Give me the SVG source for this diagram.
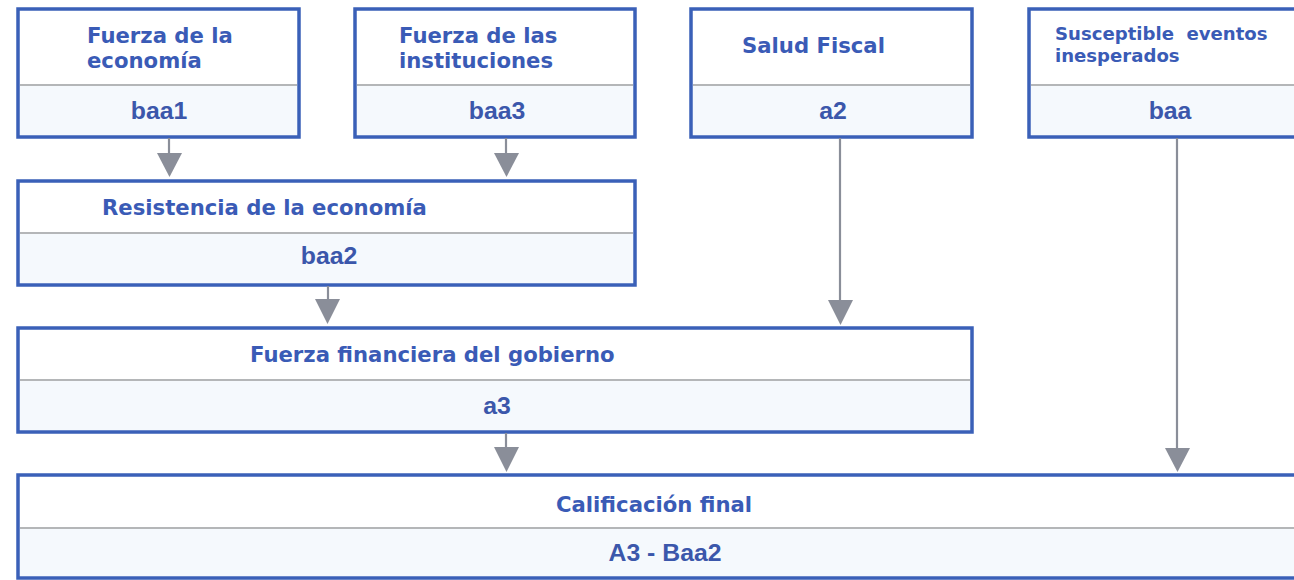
<svg xmlns="http://www.w3.org/2000/svg" width="1294" height="580" viewBox="0 0 1294 580">
<style>
.box{fill:#ffffff;stroke:#3a60b8;stroke-width:3.5}
.low{fill:#f5f9fd}
.div{stroke:#b4b6b8;stroke-width:1.8}
.t{font-family:"DejaVu Sans",Verdana,sans-serif;font-weight:bold;font-size:21.2px;fill:#3a5bb6}
.s{font-family:"DejaVu Sans",Verdana,sans-serif;font-weight:bold;font-size:18.1px;fill:#3a5bb6}
.v{font-family:"Liberation Sans",Arial,sans-serif;font-weight:bold;font-size:24.8px;fill:#3b57ab;text-anchor:middle}
.c{stroke:#8a8e99;stroke-width:2.2;fill:none}
.h{fill:#8a8e99}
</style>
<rect width="1294" height="580" fill="#ffffff"/>
<g id="n1">
<rect class="box" x="18" y="9" width="281" height="128"/>
<rect class="low" x="20" y="86" width="277" height="49"/>
<line class="div" x1="20" y1="85" x2="297" y2="85"/>
<text class="t" x="87" y="43">Fuerza de la</text>
<text class="t" x="87" y="68">economía</text>
<text class="v" x="159" y="119">baa1</text>
</g>
<g id="n2">
<rect class="box" x="355" y="9" width="280" height="128"/>
<rect class="low" x="357" y="86" width="276" height="49"/>
<line class="div" x1="357" y1="85" x2="633" y2="85"/>
<text class="t" x="399" y="43">Fuerza de las</text>
<text class="t" x="399" y="68">instituciones</text>
<text class="v" x="497" y="119">baa3</text>
</g>
<g id="n3">
<rect class="box" x="691" y="9" width="281" height="128"/>
<rect class="low" x="693" y="86" width="277" height="49"/>
<line class="div" x1="693" y1="85" x2="970" y2="85"/>
<text class="t" x="742" y="53">Salud Fiscal</text>
<text class="v" x="833" y="119">a2</text>
</g>
<g id="n4">
<rect class="box" x="1029" y="9" width="280" height="128"/>
<rect class="low" x="1031" y="86" width="276" height="49"/>
<line class="div" x1="1031" y1="85" x2="1294" y2="85"/>
<text class="s" x="1055" y="40" xml:space="preserve">Susceptible  eventos</text>
<text class="s" x="1055" y="62">inesperados</text>
<text class="v" x="1170" y="119">baa</text>
</g>
<g id="n5">
<rect class="box" x="18" y="181" width="617" height="104"/>
<rect class="low" x="20" y="234" width="613" height="49"/>
<line class="div" x1="20" y1="233" x2="633" y2="233"/>
<text class="t" x="102" y="215">Resistencia de la economía</text>
<text class="v" x="329" y="264">baa2</text>
</g>
<g id="n6">
<rect class="box" x="18" y="328" width="954" height="104"/>
<rect class="low" x="20" y="381" width="950" height="49"/>
<line class="div" x1="20" y1="380" x2="970" y2="380"/>
<text class="t" x="250" y="362">Fuerza financiera del gobierno</text>
<text class="v" x="497" y="414">a3</text>
</g>
<g id="n7">
<rect class="box" x="18" y="475" width="1290" height="103"/>
<rect class="low" x="20" y="529" width="1286" height="47"/>
<line class="div" x1="20" y1="528" x2="1294" y2="528"/>
<text class="t" x="556" y="512">Calificación final</text>
<text class="v" x="665" y="561">A3 - Baa2</text>
</g>
<g id="connectors">
<line class="c" x1="169" y1="138" x2="169" y2="160"/>
<polygon class="h" points="157,153 182,153 169.5,177"/>
<line class="c" x1="506" y1="138" x2="506" y2="160"/>
<polygon class="h" points="494,153 519,153 506.5,177"/>
<line class="c" x1="328" y1="286" x2="328" y2="305"/>
<polygon class="h" points="315,299 340,299 327.5,324"/>
<line class="c" x1="840" y1="138" x2="840" y2="305"/>
<polygon class="h" points="828,300 853,300 840.5,325"/>
<line class="c" x1="506" y1="433" x2="506" y2="452"/>
<polygon class="h" points="494,447 519,447 506.5,472"/>
<line class="c" x1="1177" y1="138" x2="1177" y2="452"/>
<polygon class="h" points="1165,448 1190,448 1177.5,472"/>
</g>
</svg>
